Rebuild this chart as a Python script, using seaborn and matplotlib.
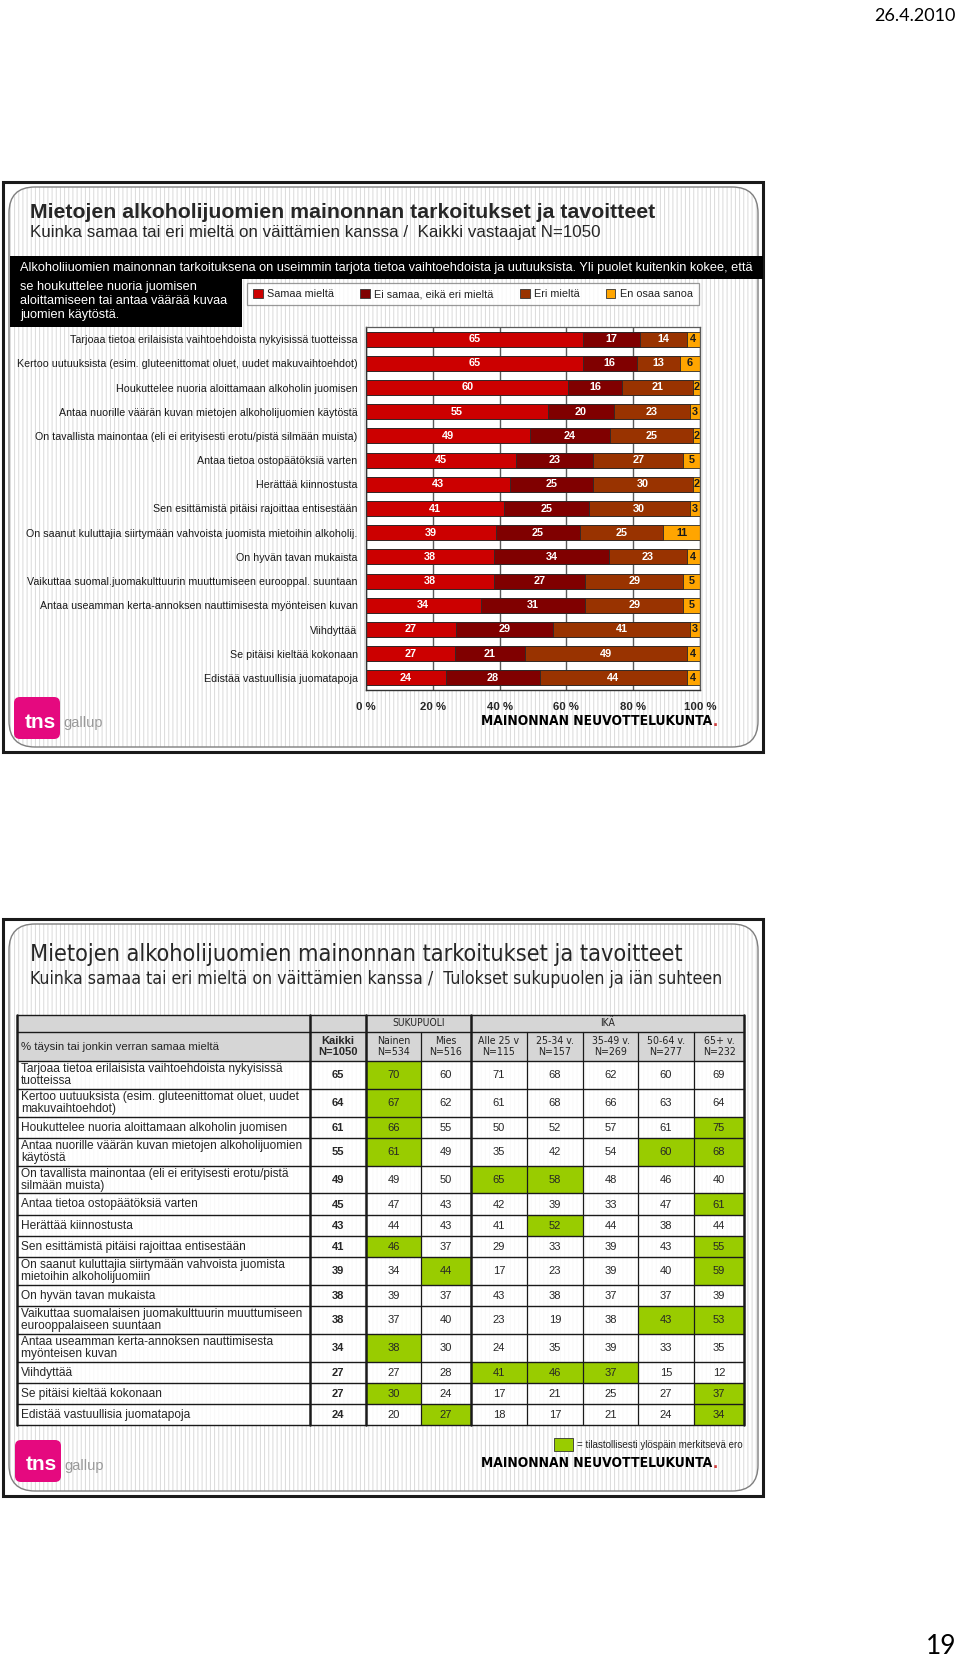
import numpy as np
import pandas as pd
import matplotlib
matplotlib.use("Agg")
import matplotlib.pyplot as plt
import seaborn as sns
from matplotlib.patches import Rectangle, FancyBboxPatch, Patch

# ---------------- data ----------------
statements = [
    "Tarjoaa tietoa erilaisista vaihtoehdoista nykyisissä tuotteissa",
    "Kertoo uutuuksista (esim. gluteenittomat oluet, uudet makuvaihtoehdot)",
    "Houkuttelee nuoria aloittamaan alkoholin juomisen",
    "Antaa nuorille väärän kuvan mietojen alkoholijuomien käytöstä",
    "On tavallista mainontaa (eli ei erityisesti erotu/pistä silmään muista)",
    "Antaa tietoa ostopäätöksiä varten",
    "Herättää kiinnostusta",
    "Sen esittämistä pitäisi rajoittaa entisestään",
    "On saanut kuluttajia siirtymään vahvoista juomista mietoihin alkoholij.",
    "On hyvän tavan mukaista",
    "Vaikuttaa suomal.juomakulttuurin muuttumiseen eurooppal. suuntaan",
    "Antaa useamman kerta-annoksen nauttimisesta myönteisen kuvan",
    "Viihdyttää",
    "Se pitäisi kieltää kokonaan",
    "Edistää vastuullisia juomatapoja",
]
samaa = [65, 65, 60, 55, 49, 45, 43, 41, 39, 38, 38, 34, 27, 27, 24]
ei_samaa_eika_eri = [17, 16, 16, 20, 24, 23, 25, 25, 25, 34, 27, 31, 29, 21, 28]
eri = [14, 13, 21, 23, 25, 27, 30, 30, 25, 23, 29, 29, 41, 49, 44]
en_osaa = [4, 6, 2, 3, 2, 5, 2, 3, 11, 4, 5, 5, 3, 4, 4]
series_names = ["Samaa mieltä", "Ei samaa, eikä eri mieltä", "Eri mieltä", "En osaa sanoa"]
x_ticks = [0, 20, 40, 60, 80, 100]

table_rows = [
    "Tarjoaa tietoa erilaisista vaihtoehdoista nykyisissä\ntuotteissa",
    "Kertoo uutuuksista (esim. gluteenittomat oluet, uudet\nmakuvaihtoehdot)",
    "Houkuttelee nuoria aloittamaan alkoholin juomisen",
    "Antaa nuorille väärän kuvan mietojen alkoholijuomien\nkäytöstä",
    "On tavallista mainontaa (eli ei erityisesti erotu/pistä\nsilmään muista)",
    "Antaa tietoa ostopäätöksiä varten",
    "Herättää kiinnostusta",
    "Sen esittämistä pitäisi rajoittaa entisestään",
    "On saanut kuluttajia siirtymään vahvoista juomista\nmietoihin alkoholijuomiin",
    "On hyvän tavan mukaista",
    "Vaikuttaa suomalaisen juomakulttuurin muuttumiseen\neurooppalaiseen suuntaan",
    "Antaa useamman kerta-annoksen nauttimisesta\nmyönteisen kuvan",
    "Viihdyttää",
    "Se pitäisi kieltää kokonaan",
    "Edistää vastuullisia juomatapoja",
]
col_keys = ["Kaikki", "Nainen", "Mies", "Alle 25", "25-34", "35-49", "50-64", "65+"]
col_heads = ["Kaikki\nN=1050", "Nainen\nN=534", "Mies\nN=516", "Alle 25 v\nN=115",
             "25-34 v.\nN=157", "35-49 v.\nN=269", "50-64 v.\nN=277", "65+ v.\nN=232"]
t_kaikki = [65, 64, 61, 55, 49, 45, 43, 41, 39, 38, 38, 34, 27, 27, 24]
t_nainen = [70, 67, 66, 61, 49, 47, 44, 46, 34, 39, 37, 38, 27, 30, 20]
t_mies = [60, 62, 55, 49, 50, 43, 43, 37, 44, 37, 40, 30, 28, 24, 27]
t_alle25 = [71, 61, 50, 35, 65, 42, 41, 29, 17, 43, 23, 24, 41, 17, 18]
t_25_34 = [68, 68, 52, 42, 58, 39, 52, 33, 23, 38, 19, 35, 46, 21, 17]
t_35_49 = [62, 66, 57, 54, 48, 33, 44, 39, 39, 37, 38, 39, 37, 25, 21]
t_50_64 = [60, 63, 61, 60, 46, 47, 38, 43, 40, 37, 43, 33, 15, 27, 24]
t_65plus = [69, 64, 75, 68, 40, 61, 44, 55, 59, 39, 53, 35, 12, 37, 34]
significant = [
    ["Nainen"], ["Nainen"], ["Nainen", "65+"], ["Nainen", "50-64", "65+"],
    ["Alle 25", "25-34"], ["65+"], ["25-34"], ["Nainen", "65+"], ["Mies", "65+"],
    [], ["50-64", "65+"], ["Nainen"], ["Alle 25", "25-34", "35-49"],
    ["Nainen", "65+"], ["Mies", "65+"],
]

# ---------------- style ----------------
sns.set_style("white")
plt.rcParams["font.family"] = ["Liberation Sans", "DejaVu Sans"]
plt.rcParams["hatch.linewidth"] = 0.7
COND = dict(family=["DejaVu Sans"], fontstretch="condensed")

colors = ["#CC0000", "#800000", "#993300", "#FFA500"]
GREEN = "#99CC00"
HEAD = "#D6D6D6"

fig = plt.figure(figsize=(9.6, 16.8), dpi=100)
pax = fig.add_axes([0, 0, 1, 1])
pax.set_xlim(0, 960)
pax.set_ylim(1680, 0)
pax.axis("off")


def slide_frame(top, bottom):
    pax.add_patch(FancyBboxPatch((9, top + 5), 749, bottom - top - 10,
                                 boxstyle="round,pad=0,rounding_size=26",
                                 facecolor="white", edgecolor="#DADADA", hatch="||||",
                                 lw=0, zorder=0))
    pax.add_patch(FancyBboxPatch((9, top + 5), 749, bottom - top - 10,
                                 boxstyle="round,pad=0,rounding_size=26",
                                 fill=False, edgecolor="#7F7F7F", lw=1.0, zorder=0.5))
    pax.add_patch(Rectangle((3, top), 760, bottom - top, fill=False,
                            edgecolor="#1A1A1A", lw=2.2, zorder=0.6))


def tns_logo(x, y):
    pax.add_patch(FancyBboxPatch((x + 3, y + 3), 40, 36,
                                 boxstyle="round,pad=3,rounding_size=6",
                                 facecolor="#E5097F", edgecolor="none", zorder=3))
    pax.text(x + 26, y + 25, "tns", color="white", fontsize=15, fontweight="bold",
             ha="center", va="center", zorder=4)
    pax.text(x + 49, y + 26, "gallup", color="#9A9A9A", fontsize=10.5,
             ha="left", va="center", zorder=4)


def mnk_logo(xr, y):
    pax.text(xr, y, "MAINONNAN NEUVOTTELUKUNTA", fontweight="bold",
             fontsize=9.9, color="black", ha="right", va="center", zorder=4, **COND)
    pax.text(xr + 1, y, ".", fontweight="bold", fontsize=13,
             color="#D04040", ha="left", va="center", zorder=4)


# page texts
pax.text(956, 16, "26.4.2010", family=["Lato", "DejaVu Sans"], fontsize=13,
         ha="right", va="center", color="black")
pax.text(956, 1646, "19", family=["Lato", "DejaVu Sans"], fontsize=19,
         ha="right", va="center", color="black")

# ================= slide 1 =================
slide_frame(182, 752)
pax.text(30, 213, "Mietojen alkoholijuomien mainonnan tarkoitukset ja tavoitteet",
         fontsize=15.3, fontweight="bold", ha="left", va="center", zorder=3)
pax.text(30, 233, "Kuinka samaa tai eri mieltä on väittämien kanssa /  Kaikki vastaajat N=1050",
         fontsize=12.2, ha="left", va="center", zorder=3)
pax.add_patch(Rectangle((10, 256), 753, 23, facecolor="black", edgecolor="none", zorder=2))
pax.add_patch(Rectangle((10, 256), 232, 71, facecolor="black", edgecolor="none", zorder=2))
pax.text(20, 268, "Alkoholiiuomien mainonnan tarkoituksena on useimmin tarjota tietoa "
         "vaihtoehdoista ja uutuuksista. Yli puolet kuitenkin kokee, että",
         color="white", fontsize=9.2, ha="left", va="center", zorder=3)
for yy, line in zip([287, 301, 315], ["se houkuttelee nuoria juomisen",
                                      "aloittamiseen tai antaa väärää kuvaa",
                                      "juomien käytöstä."]):
    pax.text(20, yy, line, color="white", fontsize=9.2, ha="left", va="center", zorder=3)

handles = [Patch(facecolor=c, edgecolor="#333333", lw=0.6, label=n)
           for c, n in zip(colors, series_names)]
leg = fig.legend(handles=handles, loc="center", bbox_to_anchor=(473 / 960, 1 - 294 / 1680),
                 ncol=4, frameon=True, fancybox=False, edgecolor="#808080", fontsize=7.8,
                 handlelength=0.9, handleheight=0.9, handletextpad=0.4,
                 columnspacing=2.4, borderpad=0.55)
leg.get_frame().set_linewidth(0.9)
for t in leg.get_texts():
    t.set_color("#222222")

# bar chart
vals = np.array([samaa, ei_samaa_eika_eri, eri, en_osaa], dtype=float).T
shares = vals / vals.sum(axis=1, keepdims=True) * 100
cum = shares.cumsum(axis=1)
bax = fig.add_axes([366 / 960, 1 - 690 / 1680, (700 - 366) / 960, (690 - 327) / 1680])
bax.set_facecolor("white")
bax.set_axisbelow(True)
for k in reversed(range(4)):
    sns.barplot(x=cum[:, k], y=statements, orient="h", color=colors[k], saturation=1,
                edgecolor="#2A2A2A", linewidth=0.6, width=0.62, ax=bax)
for i in range(len(statements)):
    for k in range(4):
        xc = cum[i, k] - shares[i, k] / 2
        bax.text(xc, i, f"{int(vals[i, k])}", ha="center", va="center",
                 color=("#1A1A1A" if k == 3 else "white"), fontsize=7.8,
                 fontweight="bold")
bax.set_xlim(0, 100)
bax.set_ylim(len(statements) - 0.5, -0.5)
bax.set_xlabel("")
bax.set_ylabel("")
bax.set_xticks(x_ticks)
bax.set_xticklabels([f"{t} %" for t in x_ticks], fontweight="bold", fontsize=8.2)
bax.xaxis.grid(True, color="#5A5A5A", lw=1.0)
bax.yaxis.grid(False)
bax.set_yticks(np.arange(-0.5, len(statements), 1), minor=True)
bax.tick_params(axis="y", which="major", length=0, pad=6, labelsize=7.7, labelcolor="#1A1A1A")
bax.tick_params(axis="y", which="minor", length=4, width=0.9, direction="out", color="#333333")
bax.tick_params(axis="x", which="major", length=4, width=0.9, direction="out",
                color="#333333", pad=5)
for s in ["left", "bottom"]:
    bax.spines[s].set_color("#333333")
    bax.spines[s].set_linewidth(1.0)
for s in ["top", "right"]:
    bax.spines[s].set_color("#5A5A5A")
    bax.spines[s].set_linewidth(0.9)

tns_logo(14, 697)
mnk_logo(712, 721)

# ================= slide 2 =================
slide_frame(919, 1496)
pax.text(30, 954, "Mietojen alkoholijuomien mainonnan tarkoitukset ja tavoitteet",
         fontsize=16.8, ha="left", va="center", zorder=3, **COND)
pax.text(30, 979, "Kuinka samaa tai eri mieltä on väittämien kanssa /  Tulokset sukupuolen ja iän suhteen",
         fontsize=12.7, ha="left", va="center", zorder=3, **COND)

xe = [17, 310, 366, 421, 471, 527, 583, 638, 694, 744]
h_top, h_mid, h_bot = 1015, 1032, 1061
pax.add_patch(Rectangle((xe[0], h_top), xe[-1] - xe[0], h_bot - h_top,
                        facecolor=HEAD, edgecolor="none", zorder=2))
pax.text((xe[2] + xe[4]) / 2, (h_top + h_mid) / 2, "SUKUPUOLI",
         fontsize=7.5, ha="center", va="center", zorder=4, **COND)
pax.text((xe[4] + xe[9]) / 2, (h_top + h_mid) / 2, "IKÄ",
         fontsize=7.5, ha="center", va="center", zorder=4, **COND)
pax.text(xe[0] + 4, (h_mid + h_bot) / 2, "% täysin tai jonkin verran samaa mieltä",
         fontsize=8.2, ha="left", va="center", zorder=4)
for j, head in enumerate(col_heads):
    xc = (xe[j + 1] + xe[j + 2]) / 2
    if j == 0:
        pax.text(xc, (h_mid + h_bot) / 2, head, fontsize=8.0, fontweight="bold",
                 ha="center", va="center", linespacing=1.1, zorder=4)
    else:
        pax.text(xc, (h_mid + h_bot) / 2, head, fontsize=7.6,
                 ha="center", va="center", linespacing=1.1, zorder=4, color="#222222",
                 **COND)

cols = [t_kaikki, t_nainen, t_mies, t_alle25, t_25_34, t_35_49, t_50_64, t_65plus]
row_edges = [h_bot]
for lab in table_rows:
    row_edges.append(row_edges[-1] + (27.8 if "\n" in lab else 21.2))
for i, lab in enumerate(table_rows):
    y0, y1 = row_edges[i], row_edges[i + 1]
    ym = (y0 + y1) / 2
    pax.add_patch(Rectangle((xe[0], y0), xe[1] - xe[0], y1 - y0, facecolor="white",
                            alpha=0.85, edgecolor="none", zorder=2))
    pax.text(xe[0] + 4, ym + 0.5, lab, fontsize=8.6, ha="left", va="center",
             linespacing=1.0, zorder=4)
    for j, key in enumerate(col_keys):
        fc = GREEN if key in significant[i] else "white"
        pax.add_patch(Rectangle((xe[j + 1], y0), xe[j + 2] - xe[j + 1], y1 - y0,
                                facecolor=fc, alpha=(1 if fc == GREEN else 0.85),
                                edgecolor="none", zorder=2))
        pax.text((xe[j + 1] + xe[j + 2]) / 2, ym + 0.5, str(cols[j][i]), fontsize=8.0,
                 fontweight=("bold" if j == 0 else "normal"), ha="center", va="center",
                 zorder=4)

t_bottom = row_edges[-1]
for yy in [h_top, h_mid, h_bot] + row_edges[1:]:
    pax.plot([xe[0], xe[-1]], [yy, yy], color="#1A1A1A", lw=1.0, zorder=3)
for x in xe:
    thick = x in (xe[0], xe[1], xe[2], xe[4], xe[-1])
    ytop = h_top if thick else h_mid
    pax.plot([x, x], [ytop, t_bottom], color="#1A1A1A", lw=(1.8 if thick else 0.9), zorder=3)

pax.add_patch(Rectangle((554, 1438), 19, 13, facecolor=GREEN, edgecolor="#333333",
                        lw=0.6, zorder=3))
pax.text(577, 1445, "= tilastollisesti ylöspäin merkitsevä ero", fontsize=7.0,
         ha="left", va="center", zorder=4, color="#222222")
tns_logo(15, 1440)
mnk_logo(712, 1463)

fig.savefig("out.png", dpi=100)
